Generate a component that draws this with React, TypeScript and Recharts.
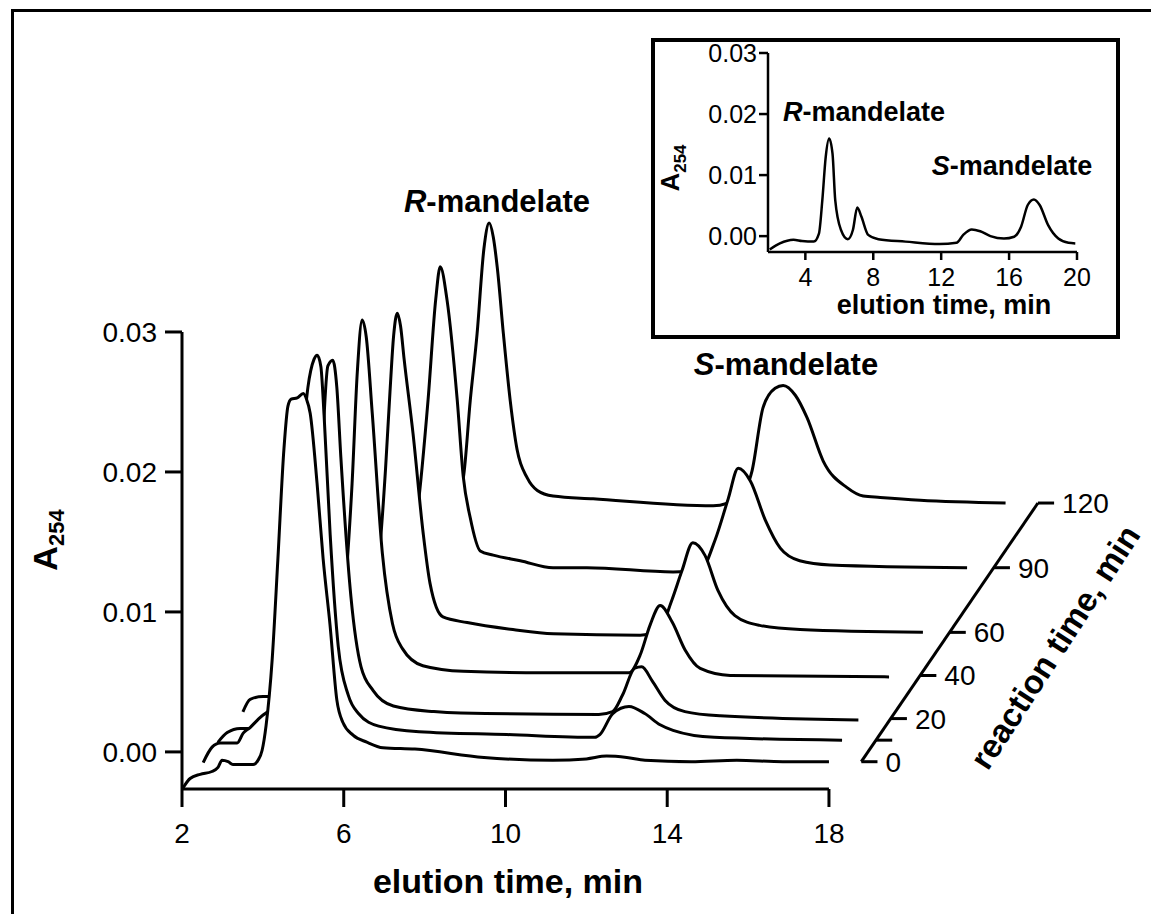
import React from 'react'
import { ComposedChart, LineChart, Line, Area, XAxis, YAxis, ReferenceLine } from 'recharts'

// reaction times of the stacked runs, front (0 min) to back (120 min)
const REACTION_TIMES = [0, 10, 20, 40, 60, 90, 120]
const DEPTH_TICKS = [0, 10, 20, 40, 60, 90, 120]
const DEPTH_LABELS = ['0', '', '20', '40', '60', '90', '120']
const X_TICKS = [2, 6, 10, 14, 18]
const Y_TICKS = [0, 0.01, 0.02, 0.03]

// [elution time (min), A254] read from each run
const RUN_0 = [
  [2.02, -0.0026], [2.2, -0.0019], [2.45, -0.0016], [2.74, -0.0014], [2.89, -0.0011], [2.99, -0.0006],
  [3.14, -0.0007], [3.26, -0.0009], [3.76, -0.0009], [3.88, -0.0006], [3.98, 0.0001], [4.08, 0.0019],
  [4.23, 0.0066], [4.37, 0.0137], [4.52, 0.0216], [4.62, 0.0247], [4.7, 0.0252], [4.85, 0.0253],
  [5.0, 0.0256], [5.08, 0.0252], [5.17, 0.0242], [5.34, 0.0192], [5.49, 0.0138], [5.66, 0.0091],
  [5.83, 0.0037], [5.98, 0.0021], [6.23, 0.0012], [6.57, 0.0007], [6.97, 0.0003], [7.76, 0.0002],
  [9.47, -0.0004], [11.17, -0.0006], [12.0, -0.0005], [12.5, -0.0003], [13.0, -0.0004], [13.45, -0.0006],
  [14.59, -0.0007], [15.72, -0.0006], [16.86, -0.0007], [18.0, -0.0007],
]
const RUN_10 = [
  [2.16, -0.0023], [2.38, -0.0012], [2.58, -0.0009], [3.0, -0.0009], [3.15, -0.0002], [3.32, 0.0002],
  [3.49, 0.0007], [3.6, 0.001], [3.9, 0.0018], [4.1, 0.004], [4.4, 0.012], [4.6, 0.02], [4.75, 0.0245],
  [4.9, 0.0265], [4.98, 0.0268], [5.07, 0.026], [5.15, 0.0225], [5.3, 0.014], [5.5, 0.006], [5.75, 0.0025],
  [6.0, 0.0012], [6.5, 0.0003], [7.5, -0.0001], [9.67, -0.0003], [11.85, -0.0005], [11.97, -0.0003],
  [12.29, 0.0012], [12.69, 0.0017], [13.08, 0.0012], [13.46, 0.0004], [13.78, 0.0], [14.8, -0.0005],
  [17.96, -0.0007],
]
const RUN_20 = [
  [2.16, -0.0024], [2.39, -0.0017], [2.71, -0.0014], [2.91, -0.0014], [3.03, -0.0017], [3.2, -0.0021],
  [3.6, -0.0018], [4.0, -0.001], [4.3, 0.001], [4.5, 0.006], [4.7, 0.016], [4.88, 0.0245], [5.0, 0.0249],
  [5.1, 0.023], [5.2, 0.018], [5.45, 0.008], [5.7, 0.003], [6.0, 0.0013], [6.5, 0.0002], [7.5, -0.0002],
  [8.17, -0.0003], [11.58, -0.0004], [11.92, -0.0002], [12.17, 0.001], [12.47, 0.0029], [12.64, 0.003],
  [12.9, 0.002], [13.22, 0.0006], [13.71, -0.0002], [14.58, -0.0005], [18.0, -0.0008],
]
const RUN_40 = [
  [2.05, -0.0033], [2.23, -0.0024], [2.55, -0.0022], [3.0, -0.0022], [3.5, -0.002], [4.0, -0.0012],
  [4.3, 0.0005], [4.5, 0.003], [4.62, 0.007], [4.75, 0.013], [4.88, 0.021], [5.0, 0.0247], [5.1, 0.0235],
  [5.25, 0.018], [5.5, 0.008], [5.75, 0.003], [6.0, 0.0012], [6.5, 0.0], [7.5, -0.0004], [9.5, -0.0005],
  [11.6, -0.0005], [11.88, 0.0008], [12.12, 0.0029], [12.37, 0.0043], [12.67, 0.0031], [12.99, 0.0011],
  [13.36, -0.0002], [14.1, -0.0007], [18.03, -0.0008],
]
const RUN_60 = [
  [4.2, -0.0005], [4.5, 0.001], [4.7, 0.005], [4.85, 0.011], [4.96, 0.0165], [5.05, 0.0205], [5.14, 0.0221],
  [5.22, 0.0212], [5.31, 0.0188], [5.53, 0.0135], [5.78, 0.0064], [5.95, 0.0028], [6.27, 0.0004],
  [6.87, 0.0], [8.0, -0.0005], [9.0, -0.0008], [11.15, -0.0009], [11.6, -0.0006], [11.93, 0.0016],
  [12.18, 0.0037], [12.45, 0.0057], [12.75, 0.0048], [13.07, 0.0023], [13.49, 0.0005], [14.1, -0.0002],
  [15.1, -0.0005], [18.14, -0.0007],
]
const RUN_90 = [
  [4.3, -0.0003], [4.54, 0.0032], [4.81, 0.0113], [5.0, 0.0185], [5.11, 0.0208], [5.28, 0.0184],
  [5.53, 0.0113], [5.68, 0.0058], [5.85, 0.0029], [6.1, 0.0005], [6.42, 0.0002], [7.09, -0.0002],
  [7.9, -0.0007], [8.74, -0.0007], [10.87, -0.001], [11.54, -0.0009], [11.91, 0.0013], [12.23, 0.0042],
  [12.48, 0.0064], [12.78, 0.0055], [13.15, 0.0027], [13.52, 0.0007], [14.0, -0.0002], [14.75, -0.0005],
  [18.14, -0.0007],
]
const RUN_120 = [
  [4.4, -0.0005], [4.59, 0.0011], [4.76, 0.0066], [4.93, 0.0114], [5.1, 0.0175], [5.23, 0.0193],
  [5.33, 0.0183], [5.43, 0.0161], [5.58, 0.0114], [5.75, 0.0066], [5.92, 0.0031], [6.17, 0.0011],
  [6.42, 0.0002], [6.81, -0.0002], [7.8, -0.0004], [10.77, -0.0009], [11.44, -0.0002], [11.73, 0.0016],
  [12.0, 0.0061], [12.3, 0.0075], [12.5, 0.0077], [12.8, 0.007], [13.09, 0.0054], [13.49, 0.0023],
  [14.08, 0.0004], [14.48, -0.0002], [14.9, -0.0003], [15.89, -0.0005], [18.0, -0.0007],
]
const RUNS = [RUN_0, RUN_10, RUN_20, RUN_40, RUN_60, RUN_90, RUN_120]

// inset: single run
const INSET_RUN = [
  [1.9, -0.0022], [2.5, -0.0012], [3.3, -0.0006], [3.8, -0.0008], [4.5, -0.0009], [4.8, 0.0004],
  [5.0, 0.0059], [5.2, 0.013], [5.4, 0.016], [5.6, 0.0135], [5.76, 0.0059], [6.1, 0.001], [6.5, -0.0005],
  [6.8, 0.001], [7.06, 0.0047], [7.3, 0.0032], [7.7, 0.0002], [8.3, -0.0005], [9.9, -0.0009],
  [11.9, -0.0013], [12.9, -0.0011], [13.3, 0.0002], [13.8, 0.0011], [14.3, 0.0008], [14.9, 0.0],
  [15.7, -0.0004], [16.3, -0.0001], [16.7, 0.0015], [17.1, 0.0051], [17.46, 0.006], [17.8, 0.0051],
  [18.3, 0.0018], [18.9, -0.0004], [19.5, -0.0011], [19.9, -0.0012],
]
const INSET_X_TICKS = [4, 8, 12, 16, 20]
const INSET_Y_TICKS = [0, 0.01, 0.02, 0.03]

const FONT = '"Liberation Sans", Arial, Helvetica, sans-serif'

// pseudo-3D: one minute of reaction time moves a run this far
const DEPTH_DX = 0.0364
const DEPTH_DY = 0.000154
const DEPTH_ORIGIN = { x: 18.8, y: -0.0007 }
const DEPTH_TICK_LEN = 0.4

const Y_MIN = -0.00265
const Y_MAX = 0.04
const INSET_Y_MIN = -0.0026

const project = (run: number[][], t: number) =>
  run.map(([x, a]) => ({ x: x + t * DEPTH_DX, y: a + t * DEPTH_DY }))

const fmt = (v: number) => v.toFixed(2)

const Mandelate = ({ letter }: { letter: string }) => (
  <>
    <span style={{ fontStyle: 'italic' }}>{letter}</span>-mandelate
  </>
)

const label = (x: number, y: number, size: number, rotate = 0): React.CSSProperties => ({
  position: 'absolute',
  left: x,
  top: y,
  transform: `translate(-50%, -50%) rotate(${rotate}deg)`,
  fontSize: size,
  fontWeight: 'bold',
  lineHeight: 1,
  whiteSpace: 'nowrap',
})

export default function App() {
  // back runs first so front runs paint over them (hidden lines)
  const traces = REACTION_TIMES.map((t, i) => ({ t, data: project(RUNS[i], t) })).reverse()
  const depthEnd = {
    x: DEPTH_ORIGIN.x + 120 * DEPTH_DX,
    y: DEPTH_ORIGIN.y + 120 * DEPTH_DY,
  }
  const inset = INSET_RUN.map(([x, y]) => ({ x, y }))
  const axisTick = { stroke: '#000', strokeWidth: 3 }

  return (
    <div style={{ position: 'absolute', left: 0, top: 0, width: 1151, height: 914, background: '#fff', fontFamily: FONT, color: '#000', overflow: 'hidden' }}>
      {/* frame */}
      <div style={{ position: 'absolute', left: 11, top: 9, width: 1150, height: 910, borderLeft: '3px solid #000', borderTop: '3px solid #000' }} />

      <div style={{ position: 'absolute', left: 0, top: 0 }}>
        <ComposedChart width={1151} height={914} margin={{ top: 192, right: 39, left: 122, bottom: 85 }}>
          <XAxis
            type="number"
            dataKey="x"
            domain={[2, 25]}
            ticks={X_TICKS}
            interval={0}
            allowDataOverflow
            axisLine={false}
            tickLine={axisTick}
            tickSize={18}
            tickMargin={16}
            height={40}
            tick={{ fill: '#000', fontSize: 28 }}
          />
          <YAxis
            type="number"
            domain={[Y_MIN, Y_MAX]}
            ticks={Y_TICKS}
            interval={0}
            allowDataOverflow
            axisLine={false}
            tickLine={axisTick}
            tickSize={17}
            tickMargin={8}
            width={60}
            tickFormatter={fmt}
            tick={{ fill: '#000', fontSize: 28 }}
          />
          {traces.map((tr) => (
            <Area
              key={tr.t}
              data={tr.data}
              dataKey="y"
              type="monotone"
              stroke="#000"
              strokeWidth={3}
              fill="#fff"
              fillOpacity={1}
              baseValue={Y_MIN}
              dot={false}
              activeDot={false}
              isAnimationActive={false}
            />
          ))}
          {/* axes drawn as segments so they stop at 18 min and 0.03 */}
          <ReferenceLine segment={[{ x: 2, y: Y_MIN }, { x: 18, y: Y_MIN }]} stroke="#000" strokeWidth={3} ifOverflow="visible" />
          <ReferenceLine segment={[{ x: 2, y: Y_MIN }, { x: 2, y: 0.03 }]} stroke="#000" strokeWidth={3} ifOverflow="visible" />
          {/* reaction-time (depth) axis */}
          <ReferenceLine segment={[DEPTH_ORIGIN, depthEnd]} stroke="#000" strokeWidth={3} ifOverflow="visible" />
          {DEPTH_TICKS.map((t, i) => {
            const p = { x: DEPTH_ORIGIN.x + t * DEPTH_DX, y: DEPTH_ORIGIN.y + t * DEPTH_DY }
            return (
              <ReferenceLine
                key={t}
                segment={[p, { x: p.x + DEPTH_TICK_LEN, y: p.y }]}
                stroke="#000"
                strokeWidth={3}
                ifOverflow="visible"
                label={{ value: DEPTH_LABELS[i], position: 'right', offset: 8, fill: '#000', fontSize: 28 }}
              />
            )
          })}
        </ComposedChart>
      </div>

      {/* inset */}
      <div style={{ position: 'absolute', left: 651, top: 38, width: 469, height: 301, boxSizing: 'border-box', border: '4px solid #000', background: '#fff' }} />
      <div style={{ position: 'absolute', left: 651, top: 38 }}>
        <LineChart width={469} height={301} data={inset} margin={{ top: 15, right: 43, left: 57, bottom: 57 }}>
          <XAxis
            type="number"
            dataKey="x"
            domain={[1.8, 20]}
            ticks={INSET_X_TICKS}
            interval={0}
            allowDataOverflow
            axisLine={{ stroke: '#000', strokeWidth: 2.5 }}
            tickLine={{ stroke: '#000', strokeWidth: 2.5 }}
            tickSize={8}
            tickMargin={8}
            height={30}
            tick={{ fill: '#000', fontSize: 25 }}
          />
          <YAxis
            type="number"
            domain={[INSET_Y_MIN, 0.03]}
            ticks={INSET_Y_TICKS}
            interval={0}
            allowDataOverflow
            axisLine={{ stroke: '#000', strokeWidth: 2.5 }}
            tickLine={{ stroke: '#000', strokeWidth: 2.5 }}
            tickSize={9}
            tickMargin={2}
            width={60}
            tickFormatter={fmt}
            tick={{ fill: '#000', fontSize: 25 }}
          />
          <Line dataKey="y" type="monotone" stroke="#000" strokeWidth={2.5} dot={false} activeDot={false} isAnimationActive={false} />
        </LineChart>
      </div>

      {/* text */}
      <div style={label(497, 201, 31)}><Mandelate letter="R" /></div>
      <div style={label(786, 364, 31)}><Mandelate letter="S" /></div>
      <div style={label(508, 881, 34)}>elution time, min</div>
      <div style={label(48, 540, 34, -90)}>A<sub style={{ fontSize: 22 }}>254</sub></div>
      <div style={label(1055, 647, 33, -57)}>reaction time, min</div>

      <div style={label(864, 112, 27)}><Mandelate letter="R" /></div>
      <div style={label(1012, 166, 27)}><Mandelate letter="S" /></div>
      <div style={label(944, 305, 27)}>elution time, min</div>
      <div style={label(673, 168, 26, -90)}>A<sub style={{ fontSize: 17 }}>254</sub></div>
    </div>
  )
}
